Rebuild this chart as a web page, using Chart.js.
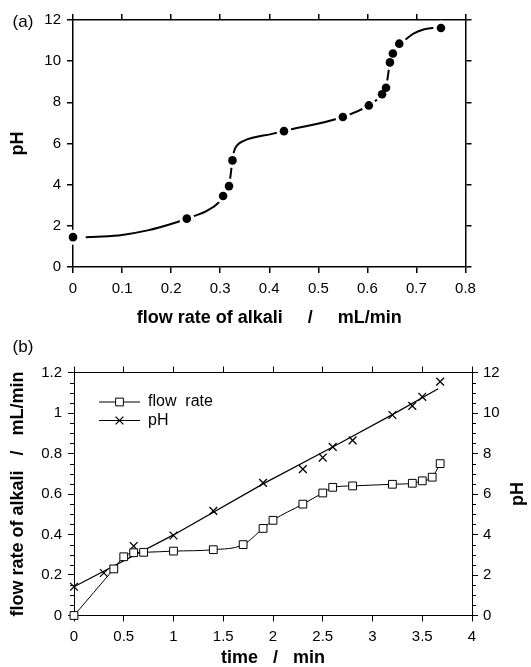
<!DOCTYPE html>
<html><head><meta charset="utf-8">
<script src="https://cdn.jsdelivr.net/npm/chart.js@4.4.1/dist/chart.umd.min.js"></script>
<style>
html,body{margin:0;padding:0;background:#fff;width:531px;height:667px;overflow:hidden}
canvas{position:absolute;left:0}
#ca{top:0}
#cb{top:320px}
</style></head><body>
<canvas id="ca" width="531" height="335"></canvas>
<canvas id="cb" width="531" height="347"></canvas>
<script>
// ---------- (a) data: pH vs flow rate of alkali ----------
const aFlow = [0, 0.232, 0.306, 0.318, 0.325, 0.43, 0.55, 0.603, 0.63, 0.638, 0.646, 0.652, 0.665, 0.75];
const aPH   = [1.45, 2.35, 3.45, 3.93, 5.18, 6.6, 7.29, 7.85, 8.39, 8.71, 9.94, 10.37, 10.85, 11.61];
// fitted curve
const aCurveFlow = [0.026, 0.06, 0.1, 0.152, 0.213, 0.232, 0.245, 0.272, 0.296, 0.306, 0.318, 0.325, 0.328, 0.334, 0.347, 0.408, 0.43, 0.55, 0.603, 0.63, 0.638, 0.642, 0.646, 0.652, 0.665, 0.677, 0.694, 0.716, 0.735];
const aCurvePH   = [1.45, 1.48, 1.56, 1.78, 2.19, 2.35, 2.46, 2.72, 3.11, 3.45, 3.94, 5.18, 5.6, 5.9, 6.12, 6.48, 6.61, 7.29, 7.85, 8.39, 8.71, 9.3, 9.94, 10.37, 10.85, 11.04, 11.34, 11.55, 11.62];
const aXTicks  = [0, 0.1, 0.2, 0.3, 0.4, 0.5, 0.6, 0.7, 0.8];
const aXLabels = ['0', '0.1', '0.2', '0.3', '0.4', '0.5', '0.6', '0.7', '0.8'];
const aYTicks  = [0, 2, 4, 6, 8, 10, 12];
const aYLabels = ['0', '2', '4', '6', '8', '10', '12'];

// ---------- (b) data: flow rate and pH vs time ----------
const bFlowTime = [0, 0.4, 0.5, 0.6, 0.7, 1.0, 1.4, 1.7, 1.9, 2.0, 2.3, 2.5, 2.6, 2.8, 3.2, 3.4, 3.5, 3.6, 3.68];
const bFlow     = [0, 0.23, 0.29, 0.31, 0.312, 0.318, 0.325, 0.35, 0.43, 0.47, 0.55, 0.605, 0.633, 0.64, 0.648, 0.653, 0.665, 0.683, 0.75];
const bPHTime   = [0, 0.3, 0.4, 0.6, 1.0, 1.4, 1.9, 2.3, 2.5, 2.6, 2.8, 3.2, 3.4, 3.5, 3.68];
const bPH       = [1.42, 2.1, 2.3, 3.43, 3.95, 5.17, 6.55, 7.23, 7.8, 8.33, 8.65, 9.9, 10.35, 10.8, 11.55];
// fitted pH line
const bFitTime  = [0, 1.0, 1.9, 2.6, 3.2, 3.66];
const bFitPH    = [1.42, 3.98, 6.5, 8.32, 9.92, 11.2];
const bXTicks   = [0, 0.5, 1, 1.5, 2, 2.5, 3, 3.5, 4];
const bXLabels  = ['0', '0.5', '1', '1.5', '2', '2.5', '3', '3.5', '4'];
const bYTicks   = [0, 0.2, 0.4, 0.6, 0.8, 1, 1.2];
const bYLabels  = ['0', '0.2', '0.4', '0.6', '0.8', '1', '1.2'];
const bY2Ticks  = [0, 2, 4, 6, 8, 10, 12];
const bY2Labels = ['0', '2', '4', '6', '8', '10', '12'];

const FONT = "'Liberation Sans', Arial, Helvetica, sans-serif";
const BLACK = '#000';
const pts = (xs, ys) => xs.map((x, i) => ({x, y: ys[i]}));

function axis(o) {
  const horiz = o.pos === 'top' || o.pos === 'bottom';
  return {
    type: 'linear', position: o.pos, min: o.min, max: o.max, z: 1,
    afterBuildTicks: s => { s.ticks = o.ticks.map(v => ({value: v})); },
    afterFit: s => { if (horiz) s.height = o.size; else s.width = o.size; },
    grid: {display: true, drawOnChartArea: false, drawTicks: true, tickLength: o.tickLen || 6,
           color: BLACK, tickColor: BLACK, tickWidth: o.width, lineWidth: o.width},
    border: {display: true, color: BLACK, width: o.width},
    ticks: {display: !!o.labels, color: BLACK, font: {family: FONT, size: 15}, padding: o.pad || 6,
            maxRotation: 0, minRotation: 0, autoSkip: false,
            callback: (v, i) => o.labels ? o.labels[i] : ''},
    title: o.title ? {display: true, text: o.title, color: BLACK,
                      font: {family: FONT, size: 18, weight: 'bold', lineHeight: 1},
                      padding: o.titlePad} : {display: false}
  };
}

const textPlugin = {
  id: 'extraText',
  afterDraw(chart, args, opts) {
    const ctx = chart.ctx, ca = chart.chartArea;
    for (const t of opts.items || []) {
      ctx.save();
      ctx.fillStyle = BLACK;
      ctx.font = (t.weight || 'normal') + ' ' + t.size + 'px ' + FONT;
      ctx.textAlign = t.align || 'center';
      ctx.textBaseline = 'middle';
      const y = t.y === 'mid' ? (ca.top + ca.bottom) / 2 : t.y;
      ctx.translate(t.x, y);
      if (t.rot) ctx.rotate(t.rot);
      ctx.fillText(t.text, 0, 0);
      ctx.restore();
    }
  }
};

const minorTicks = {
  id: 'minorTicks',
  afterDraw(chart, args, opts) {
    const ctx = chart.ctx;
    ctx.save();
    ctx.strokeStyle = BLACK; ctx.lineWidth = 1;
    for (const m of opts.axes || []) {
      const s = chart.scales[m.id];
      const n = Math.round((s.max - s.min) / m.step);
      for (let i = 0; i <= n; i++) {
        if (i % m.every === 0) continue;
        const py = Math.round(s.getPixelForValue(s.min + i * m.step)) + 0.5;
        const edge = m.side === 'left' ? s.right : s.left;
        const dir = m.side === 'left' ? -1 : 1;
        ctx.beginPath(); ctx.moveTo(edge, py); ctx.lineTo(edge + dir * m.len, py); ctx.stroke();
      }
    }
    ctx.restore();
  }
};

function drawMarker(ctx, style, r, x, y) {
  if (Chart.helpers && Chart.helpers.drawPoint) {
    Chart.helpers.drawPoint(ctx, {pointStyle: style, radius: r, borderWidth: ctx.lineWidth, rotation: 0}, x, y);
    return;
  }
  ctx.beginPath();
  if (style === 'rect') { const h = r * Math.SQRT1_2; ctx.rect(x - h, y - h, 2 * h, 2 * h); ctx.fill(); ctx.stroke(); }
  else { const h = r * Math.SQRT1_2; ctx.moveTo(x - h, y - h); ctx.lineTo(x + h, y + h); ctx.moveTo(x + h, y - h); ctx.lineTo(x - h, y + h); ctx.stroke(); }
}

const lineLegend = {
  id: 'lineLegend',
  afterDraw(chart, args, opts) {
    const ctx = chart.ctx;
    (opts.items || []).forEach((it, i) => {
      const lds = chart.data.datasets[it.line], mds = chart.data.datasets[it.mark];
      const y = opts.y + i * opts.gap;
      ctx.save();
      ctx.strokeStyle = lds.borderColor; ctx.lineWidth = lds.borderWidth;
      ctx.beginPath(); ctx.moveTo(opts.x, y); ctx.lineTo(opts.x + opts.len, y); ctx.stroke();
      ctx.fillStyle = mds.pointBackgroundColor; ctx.strokeStyle = mds.pointBorderColor; ctx.lineWidth = mds.pointBorderWidth;
      drawMarker(ctx, mds.pointStyle, mds.pointRadius, opts.x + opts.len / 2, y);
      ctx.fillStyle = BLACK; ctx.font = opts.size + 'px ' + FONT;
      ctx.textAlign = 'left'; ctx.textBaseline = 'middle';
      ctx.fillText(mds.label, opts.x + opts.len + opts.textGap, y);
      ctx.restore();
    });
  }
};

// ---------- chart (a) ----------
new Chart(document.getElementById('ca'), {
  type: 'scatter',
  data: {
    datasets: [
      {label: 'pH', data: pts(aFlow, aPH), showLine: false, pointRadius: 4.3, pointBackgroundColor: BLACK,
       pointBorderWidth: 0, pointBorderColor: BLACK, clip: false, order: 0},
      {label: 'gap', data: pts(aFlow, aPH), showLine: false, pointRadius: 7.5, pointBackgroundColor: '#fff',
       pointBorderWidth: 0, clip: false, order: 1},
      {label: 'fit', data: pts(aCurveFlow, aCurvePH), showLine: true, borderColor: BLACK, borderWidth: 2,
       pointRadius: 0, cubicInterpolationMode: 'monotone', clip: false, order: 2}
    ]
  },
  options: {
    responsive: false, animation: false, events: [],
    layout: {padding: 0},
    plugins: {legend: {display: false}, tooltip: {enabled: false},
      extraText: {items: [{text: '(a)', x: 23, y: 22, size: 17}]}},
    scales: {
      x: axis({pos: 'bottom', min: 0, max: 0.8, ticks: aXTicks, labels: aXLabels, size: 68, width: 1.5, pad: 7,
               title: 'flow rate of alkali     /     mL/min', titlePad: {top: 0, bottom: 8}}),
      xTop: axis({pos: 'top', min: 0, max: 0.8, ticks: aXTicks, size: 20, width: 1.5}),
      y: axis({pos: 'left', min: 0, max: 12, ticks: aYTicks, labels: aYLabels, size: 73, width: 1.5, pad: 6,
               title: 'pH', titlePad: {top: 9, bottom: 0}}),
      yRight: axis({pos: 'right', min: 0, max: 12, ticks: aYTicks, size: 65.5, width: 1.5})
    }
  },
  plugins: [textPlugin]
});

// ---------- chart (b) ----------
new Chart(document.getElementById('cb'), {
  type: 'scatter',
  data: {
    datasets: [
      {label: 'flow  rate', data: pts(bFlowTime, bFlow), yAxisID: 'y', showLine: true, borderColor: BLACK, borderWidth: 1,
       cubicInterpolationMode: 'monotone', pointStyle: 'rect', pointRadius: 5.5, pointBackgroundColor: '#fff',
       pointBorderColor: BLACK, pointBorderWidth: 1, clip: false, order: 0},
      {label: 'pH', data: pts(bPHTime, bPH), yAxisID: 'y2', showLine: false, pointStyle: 'crossRot', pointRadius: 5.5,
       pointBackgroundColor: BLACK, pointBorderColor: BLACK, pointBorderWidth: 1.3, clip: false, order: 1},
      {label: 'pH fit', data: pts(bFitTime, bFitPH), yAxisID: 'y2', showLine: true, borderColor: BLACK, borderWidth: 1.2,
       pointRadius: 0, tension: 0, clip: false, order: 2}
    ]
  },
  options: {
    responsive: false, animation: false, events: [],
    layout: {padding: 0},
    plugins: {legend: {display: false}, tooltip: {enabled: false},
      extraText: {items: [
        {text: '(b)', x: 23, y: 27, size: 17},
        {text: 'pH', x: 518, y: 'mid', size: 18, weight: 'bold', rot: -Math.PI / 2}
      ]},
      minorTicks: {axes: [
        {id: 'y', step: 0.05, every: 4, side: 'left', len: 4},
        {id: 'y2', step: 0.5, every: 4, side: 'right', len: 4}
      ]},
      lineLegend: {x: 99, y: 82, gap: 18.5, len: 41, textGap: 8, size: 16,
        items: [{line: 0, mark: 0}, {line: 2, mark: 1}]}
    },
    scales: {
      x: axis({pos: 'bottom', min: 0, max: 4, ticks: bXTicks, labels: bXLabels, size: 51.5, width: 1, pad: 6,
               title: 'time   /   min', titlePad: {top: 0, bottom: 0}}),
      xTop: axis({pos: 'top', min: 0, max: 4, ticks: bXTicks, size: 52.5, width: 1}),
      y: axis({pos: 'left', min: 0, max: 1.2, ticks: bYTicks, labels: bYLabels, size: 74, width: 1, pad: 6,
               title: 'flow rate of alkali   /   mL/min', titlePad: {top: 9, bottom: 0}}),
      y2: axis({pos: 'right', min: 0, max: 12, ticks: bY2Ticks, labels: bY2Labels, size: 59, width: 1, pad: 5})
    }
  },
  plugins: [textPlugin, minorTicks, lineLegend]
});
</script>
</body></html>
